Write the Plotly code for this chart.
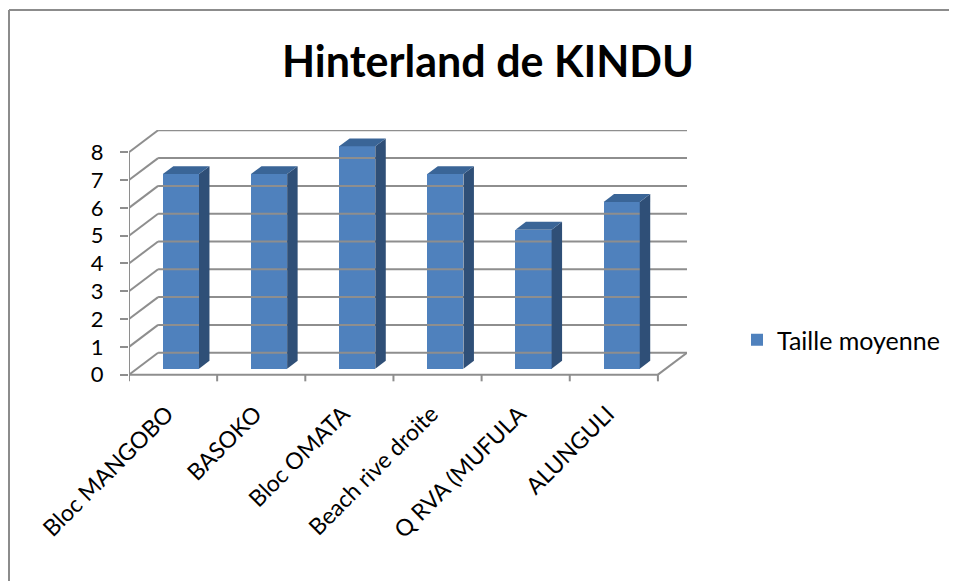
import plotly.graph_objects as go

# --- data ---
categories = ["Bloc MANGOBO", "BASOKO", "Bloc OMATA", "Beach rive droite", "Q RVA (MUFULA", "ALUNGULI"]
taille_moyenne = [7, 7, 8, 7, 5, 6]
y_ticks = [0, 1, 2, 3, 4, 5, 6, 7, 8]

# --- fake 3D geometry (oblique projection, Excel style) ---
OFF = 8                       # page body margin of the html page
W, H = 957 - OFF, 581 - OFF
ML, MT = 129 - OFF, 130 - OFF
PW, PH = 558, 253
DX, DY = 0.33, 0.79          # depth of the box in axis units
FD, BD = 0.27, 0.36          # bar front depth, bar thickness (fractions of depth)
HALF = 0.205                 # half width of the front face
X0, X1 = -0.5, len(categories) - 0.5
YMAX = 8

FRONT = "#4F81BD"
SIDE = "#2F4F77"
TOP = "#3A6597"
GRID = "#8e8e8e"
FONT = "Lato, Open Sans, sans-serif"

fig = go.Figure()


def line(xs, ys, color=GRID, width=2):
    fig.add_trace(go.Scatter(x=xs, y=ys, mode="lines", line=dict(color=color, width=width),
                             hoverinfo="skip", showlegend=False))


# back wall gridlines + left wall diagonals
for v in y_ticks:
    line([X0 + DX, X1 + DX], [v + DY, v + DY])
    line([X0, X0 + DX], [v, v + DY])

# floor
line([X0, X1], [0, 0])
line([X1, X1 + DX], [0, DY])
# front value axis
line([X0, X0], [0, YMAX])
# category ticks
for i in range(len(categories) + 1):
    line([X0 + i, X0 + i], [0, -0.24])

# bars: side and top faces
fx, fy = FD * DX, FD * DY
bx, by = BD * DX, BD * DY
for i, v in enumerate(taille_moyenne):
    xl, xr = i + fx - HALF, i + fx + HALF
    b, t = fy, fy + v
    fig.add_trace(go.Scatter(x=[xr, xr + bx, xr + bx, xr, xr], y=[b, b + by, t + by, t, b],
                             fill="toself", fillcolor=SIDE, mode="lines", line=dict(width=0),
                             hoverinfo="skip", showlegend=False))
    fig.add_trace(go.Scatter(x=[xl, xr, xr + bx, xl + bx, xl], y=[t, t, t + by, t + by, t],
                             fill="toself", fillcolor=TOP, mode="lines", line=dict(width=0),
                             hoverinfo="skip", showlegend=False))

# front faces
fig.add_trace(go.Bar(x=[i + fx for i in range(len(categories))], y=taille_moyenne, base=fy,
                     width=2 * HALF, marker=dict(color=FRONT, line=dict(width=0)),
                     name="Taille moyenne", showlegend=True))


# reference pixel -> paper coords
def px(x):
    return (x - OFF - ML) / PW


def py(y):
    return 1 - (y - OFF - MT) / PH


fig.update_layout(
    width=W, height=H,
    margin=dict(l=ML, r=W - ML - PW, t=MT, b=H - MT - PH),
    paper_bgcolor="white", plot_bgcolor="white",
    title=dict(text="<b>Hinterland de KINDU</b>", x=(488 - OFF) / W, xanchor="center",
               y=1 - (62 - OFF) / H, yanchor="middle",
               font=dict(family=FONT, size=43, color="black")),
    font=dict(family=FONT, color="black"),
    xaxis=dict(range=[X0, X1 + DX], tickvals=[i - 0.07 for i in range(len(categories))],
               ticktext=categories, tickangle=-45, showgrid=False, zeroline=False,
               showline=False, ticks="", ticklabelstandoff=12, tickfont=dict(size=23)),
    yaxis=dict(range=[-0.3, YMAX + DY + 0.01], tickvals=y_ticks, showgrid=False, zeroline=False,
               showline=False, ticks="outside", ticklen=8, tickwidth=2, tickcolor=GRID,
               ticklabelstandoff=12, tickfont=dict(size=22)),
    legend=dict(x=px(737), xanchor="left", y=py(340), yanchor="middle",
                font=dict(size=25), bgcolor="rgba(0,0,0,0)"),
    bargap=0,
    shapes=[
        dict(type="line", xref="paper", yref="paper", x0=px(9), x1=px(960), y0=py(10), y1=py(10),
             line=dict(color="#8c8c8c", width=2)),
        dict(type="line", xref="paper", yref="paper", x0=px(9), x1=px(9), y0=py(10), y1=py(590),
             line=dict(color="#8c8c8c", width=2)),
    ],
)

fig.write_html("out.html")
